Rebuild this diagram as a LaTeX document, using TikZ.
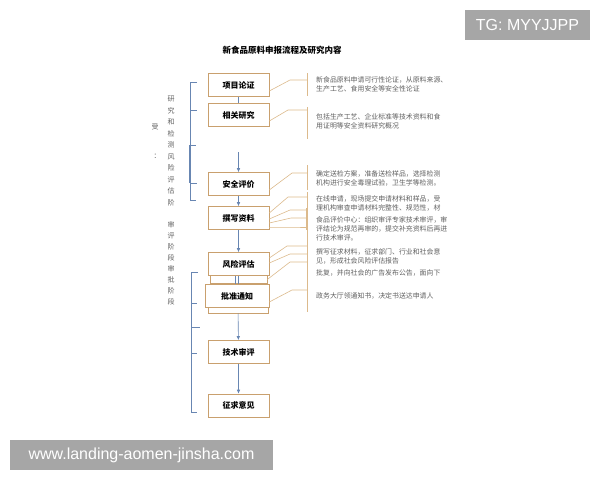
\documentclass[tikz,border=0pt]{standalone}
\usepackage{fontspec}
\usetikzlibrary{arrows.meta}
\setmainfont{Noto Sans CJK SC}
\newfontfamily\markfont{Liberation Sans}
\definecolor{boxtan}{RGB}{201,160,110}
\definecolor{linktan}{RGB}{220,186,140}
\definecolor{stageblue}{RGB}{104,134,178}
\definecolor{memogray}{RGB}{95,95,95}
\definecolor{markgray}{RGB}{166,166,166}

\begin{document}
\begin{tikzpicture}[x=1pt,y=-1pt]
\useasboundingbox (0,0) rectangle (600,480);

%
% Styles
%
\tikzstyle{stage} = [rectangle,draw=boxtan,fill=white,semithick,minimum width=61pt,minimum height=23pt,inner sep=0pt,font=\bfseries\fontsize{8}{9}\selectfont]
\tikzstyle{flow} = [stageblue,semithick,-{Latex[length=4pt,width=3.5pt]}]
\tikzstyle{link} = [linktan,semithick]
\tikzstyle{memo} = [anchor=north west,align=left,inner sep=0pt,text=memogray,font=\fontsize{6.9}{9}\selectfont]
\tikzstyle{vlabel} = [anchor=north,align=center,inner sep=0pt,text=memogray,font=\fontsize{7}{11.5}\selectfont]
\tikzstyle{wmark} = [fill=markgray,text=white,inner sep=0pt,font=\markfont\fontsize{16}{18}\selectfont]

\node[font=\bfseries\fontsize{8.5}{10}\selectfont] (title) at (282,50) {新食品原料申报流程及研究内容};

% boxes
\node[stage] (proj)    at (238.5,85)  {项目论证};
\node[stage] (study)   at (238.5,115) {相关研究};
\node[stage] (safety)  at (238.5,184) {安全评价};
\node[stage] (write)   at (238.5,218) {撰写资料};
\node[stage,minimum width=57pt] (riskback) at (238.5,271.5) {};
\node[stage] (risk)    at (238.5,264) {风险评估};
\node[stage,minimum width=60pt] (approveback) at (238,301.5) {};
\node[stage,minimum width=64pt] (approve) at (237,296) {批准通知};
\node[stage] (review)  at (238.5,352) {技术审评};
\node[stage] (opinion) at (238.5,405.5) {征求意见};

% flow
\coordinate (gap) at (238.5,152);
\draw[stageblue,semithick] (proj) -- (study);
\draw[flow] (gap) -- (safety);
\draw[flow] (safety) -- (write);
\draw[flow] (write) -- (risk);
\draw[stageblue,semithick] ([xshift=-2pt]approve.north |- risk.south) -- ([xshift=-2pt]approve.north);
\draw[stageblue,semithick] ([xshift=1pt]approve.north |- risk.south) -- ([xshift=1pt]approve.north);
\draw[flow] (approveback) -- (review);
\draw[flow] (review) -- (opinion);

% phase brackets
\draw[stageblue,semithick] (197,82) -- (190,82) -- (190,200) -- (196,200);
\draw[stageblue,semithick] (190,110) -- (197,110);
\draw[stageblue,semithick] (190,145) -- (196,145);
\draw[stageblue,semithick] (190,183) -- (197,183);
\draw[stageblue,line width=1.3pt] (190,145) -- (190,183);
\draw[stageblue,semithick] (198,272) -- (191,272) -- (191,412) -- (197,412);
\draw[stageblue,semithick] (191,303) -- (197,303);
\draw[stageblue,semithick] (191,327) -- (200,327);
\draw[stageblue,semithick] (191,353) -- (197,353);

\node[vlabel] (phase1) at (171,96) {研\\究\\和\\检\\测\\风\\险\\评\\估\\阶};
\node[vlabel,font=\fontsize{7}{11}\selectfont] (phase2) at (171,221) {审\\评\\阶\\段\\审\\批\\阶\\段};
\node[text=memogray,font=\fontsize{7}{8}\selectfont,inner sep=0pt] (shou) at (155,127) {受};
\node[text=memogray,font=\fontsize{7}{8}\selectfont,inner sep=0pt] (colon) at (157,156) {：};

% memo brackets
\draw[link] (307,73) -- (307,96);
\draw[link] (307,107) -- (307,139);
\draw[link] (307,165) -- (307,190);
\draw[link] (307,192) -- (307,312);
\draw[link,line width=1.1pt] (307,208) -- (307,230);

\coordinate (c1) at (307,80);
\coordinate (c2) at (307,110);
\coordinate (c3) at (307,173);
\coordinate (c4a) at (307,197);
\coordinate (c4b) at (307,210);
\coordinate (c4c) at (307,218);
\coordinate (c4d) at (307,227);
\coordinate (c5a) at (307,246);
\coordinate (c5b) at (307,254);
\coordinate (c5c) at (307,262);
\coordinate (c6) at (307,290);

\draw[link] ([yshift=-6pt]proj.east) -- ([xshift=-17pt]c1) -- (c1);
\draw[link] ([yshift=-6pt]study.east) -- ([xshift=-19pt]c2) -- (c2);
\draw[link] ([yshift=-6pt]safety.east) -- ([xshift=-15pt]c3) -- (c3);
\draw[link] ([yshift=5pt]write.east) -- ([xshift=-19pt]c4a) -- (c4a);
\draw[link] ([yshift=-1pt]write.east) -- ([xshift=-17pt]c4b) -- (c4b);
\draw[link] ([yshift=-5pt]write.east) -- ([xshift=-16pt]c4c) -- (c4c);
\draw[link] ([yshift=-9pt]write.east) -- ([xshift=-13pt]c4d) -- (c4d);
\draw[link] ([yshift=6pt]risk.east) -- ([xshift=-20pt]c5a) -- (c5a);
\draw[link] ([yshift=1pt]risk.east) -- ([xshift=-17pt]c5b) -- (c5b);
\draw[link] ([yshift=-8pt]riskback.east) -- ([xshift=-17pt]c5c) -- (c5c);
\draw[link] ([yshift=-6pt]approve.east) -- ([xshift=-15pt]c6) -- (c6);

% memo texts
\node[memo] (m1) at (316,76)  {新食品原料申请可行性论证，从原料来源、\\生产工艺、食用安全等安全性论证};
\node[memo] (m2) at (316,113) {包括生产工艺、企业标准等技术资料和食\\用证明等安全资料研究概况};
\node[memo] (m3) at (316,170) {确定送检方案，准备送检样品，选择检测\\机构进行安全毒理试验，卫生学等检测。};
\node[memo] (m4) at (316,195) {在线申请，现场提交申请材料和样品，受\\理机构审查申请材料完整性、规范性，材};
\node[memo] (m5) at (316,216) {食品评价中心：组织审评专家技术审评，审\\评结论为规范再审的，提交补充资料后再进\\行技术审评。};
\node[memo] (m6) at (316,248) {撰写征求材料，征求部门、行业和社会意\\见，形成社会风险评估报告};
\node[memo] (m7) at (316,269) {批复，并向社会的广告发布公告，面向下};
\node[memo] (m8) at (316,292) {政务大厅领通知书，决定书送达申请人};

% marks
\node[wmark,minimum width=125pt,minimum height=30pt] (tg) at (527.5,25) {TG: MYYJJPP};
\node[wmark,minimum width=263pt,minimum height=30pt] (site) at (141.5,455) {www.landing-aomen-jinsha.com};

\end{tikzpicture}
\end{document}
